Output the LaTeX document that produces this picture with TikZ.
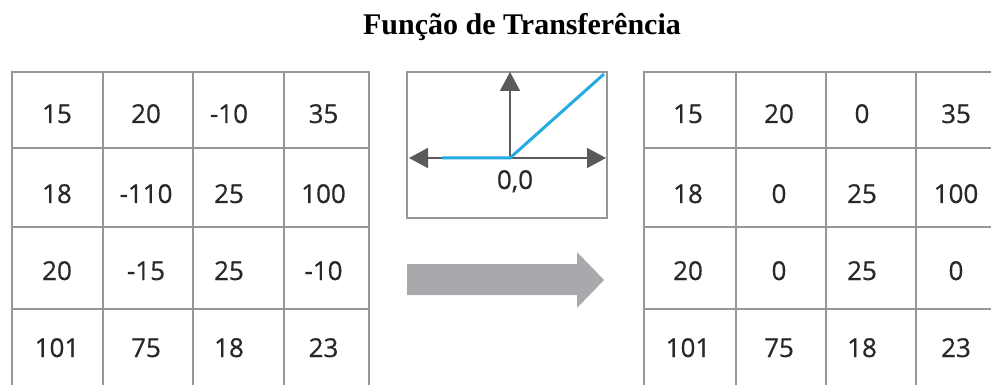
\documentclass[tikz,border=0pt]{standalone}
\usepackage{fontspec}
\setmainfont{Liberation Serif}
\newfontfamily\numfont[FakeBold=0.5]{Open Sans}
\usetikzlibrary{arrows.meta}
\definecolor{gridgray}{RGB}{150,150,150}
\definecolor{txtgray}{RGB}{40,40,40}
\definecolor{axisgray}{RGB}{90,90,90}
\definecolor{curveblue}{RGB}{38,170,226}
\definecolor{arrowgray}{RGB}{167,169,172}
\begin{document}
\begin{tikzpicture}[x=1pt,y=-1pt,
  num/.style={font=\numfont\fontsize{26}{26}\selectfont, text=txtgray, inner sep=0pt, anchor=base},
  gridline/.style={draw=gridgray, line width=2.2pt},
  axisline/.style={draw=axisgray, line width=1.6pt},
  axistip/.tip={Triangle[length=19pt,width=20pt]}]
\useasboundingbox (0,0) rectangle (991,385);
\clip (0,0) rectangle (991,385);
\fill[white] (0,0) rectangle (991,385);

% title
\node[font=\bfseries\fontsize{30}{30}\selectfont, anchor=base, inner sep=0pt] (title) at (522,35) {Função de Transferência};

% left grid
\draw[gridline] (12,395) -- (12,72) -- (369,72) -- (369,395);
\foreach \y in {148,227,309} \draw[gridline] (12,\y) -- (369,\y);
\foreach \x in {103,193,284} \draw[gridline] (\x,72) -- (\x,395);

% right grid
\draw[gridline] (644,395) -- (644,72) -- (1010,72);
\foreach \y in {148,227,309} \draw[gridline] (644,\y) -- (1010,\y);
\foreach \x in {736,826,916} \draw[gridline] (\x,72) -- (\x,395);

\def\lx{{57,146,229,323.5}}
\def\rx{{688,779,862,956}}
\foreach \v [count=\j] in {15,20,-10,35}  \node[num] (L1\j) at ({\lx[\j-1]},123) {\v};
\foreach \v [count=\j] in {18,-110,25,100} \node[num] (L2\j) at ({\lx[\j-1]},203) {\v};
\foreach \v [count=\j] in {20,-15,25,-10} \node[num] (L3\j) at ({\lx[\j-1]},280) {\v};
\foreach \v [count=\j] in {101,75,18,23}  \node[num] (L4\j) at ({\lx[\j-1]},357) {\v};

\foreach \v [count=\j] in {15,20,0,35}   \node[num] (R1\j) at ({\rx[\j-1]},123) {\v};
\foreach \v [count=\j] in {18,0,25,100}  \node[num] (R2\j) at ({\rx[\j-1]},203) {\v};
\foreach \v [count=\j] in {20,0,25,0}    \node[num] (R3\j) at ({\rx[\j-1]},280) {\v};
\foreach \v [count=\j] in {101,75,18,23} \node[num] (R4\j) at ({\rx[\j-1]},357) {\v};

% transfer function plot
\node[draw=gridgray, line width=2.2pt, minimum width=200pt, minimum height=146pt, inner sep=0pt] (plot) at (507,145) {};
\coordinate (o) at (510,158);
\coordinate (xl) at (409,158);
\coordinate (xr) at (606,158);
\coordinate (yt) at (510,72);
\coordinate (bstart) at (442,158);
\coordinate (bend) at (604,74);
\draw[axisline, axistip-axistip] (xl) -- (xr);
\draw[axisline, -axistip] (o) -- (yt);
\draw[curveblue, line width=3pt] (bstart) -- (o) -- (bend);
\node[num] (origin) at (515,189) {0,0};

% big gray arrow
\fill[arrowgray] (407,264) -- (577,264) -- (577,252) -- (604,280) -- (577,308) -- (577,295) -- (407,295) -- cycle;
\end{tikzpicture}
\end{document}
